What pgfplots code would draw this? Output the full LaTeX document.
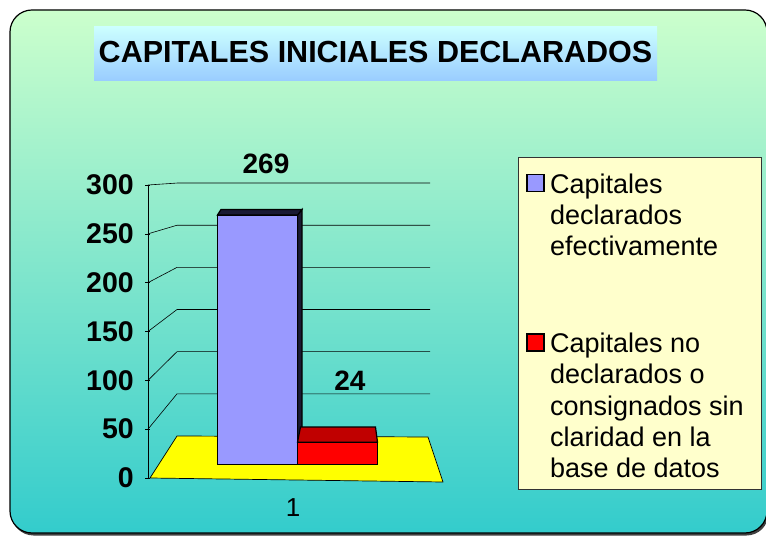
\documentclass[border=0pt]{standalone}
\usepackage{pgfplots}
\pgfplotsset{compat=1.18}
\usepackage{fontspec}
\setmainfont{Liberation Sans}
\definecolor{bgtop}{HTML}{CCFFCC}
\definecolor{bgbot}{HTML}{33CCCC}
\definecolor{titletop}{HTML}{CCFFFF}
\definecolor{titlebot}{HTML}{99CCFF}
\definecolor{barblue}{HTML}{9999FF}
\definecolor{bartop}{HTML}{1A1A33}
\definecolor{barred}{HTML}{FF0000}
\definecolor{redtop}{HTML}{C00000}
\definecolor{floor}{HTML}{FFFF00}
\definecolor{legbg}{HTML}{FFFFCC}
\begin{document}
\begin{tikzpicture}[x=1pt,y=1pt]
\useasboundingbox (0,0) rectangle (766,536);
% background panel
\fill[black!75, rounded corners=22pt] (11.5,0.5) rectangle (768.5,524);
\shade[top color=bgtop, bottom color=bgbot, rounded corners=22pt] (10,3) rectangle (767,526);
\draw[black, line width=1.2pt, rounded corners=22pt] (10,3) rectangle (767,526);
% title
\shade[top color=titletop, bottom color=titlebot] (94,455) rectangle (657,509);
\node[anchor=base, inner sep=0pt, font=\bfseries\fontsize{30.5}{36}\selectfont] at (375.5,473) {CAPITALES INICIALES DECLARADOS};
% legend box
\draw[fill=legbg, draw=black!80, line width=0.8pt] (518,47) rectangle (761,379);

% frame axis: front axis, floor and back wall
\begin{axis}[
  at={(150pt,58pt)}, anchor=south west,
  scale only axis, width=293pt, height=293pt,
  xmin=0, xmax=293, ymin=0, ymax=300, clip=false,
  axis line style={draw=none},
  ytick={0,50,...,300}, xtick={143}, xticklabels={1},
  ytick pos=left, xtick pos=bottom,
  tick align=outside, major tick length=5pt,
  y tick style={black, line width=0.6pt},
  x tick style={draw=none},
  /pgf/number format/assume math mode=true,
  yticklabel style={font=\bfseries\fontsize{28.5}{30}\selectfont, inner sep=0pt, anchor=east, xshift=-11pt},
  xticklabel style={font=\fontsize{26}{30}\selectfont, inner sep=0pt, anchor=north, yshift=-15.5pt},
]
\draw[fill=floor, draw=black, line width=0.7pt] (axis cs:0,0) -- (axis cs:293,-4.1) -- (axis cs:278,42.0) -- (axis cs:27,43) -- cycle;
\draw[black, line width=0.6pt] (axis cs:-2,0) -- (axis cs:-2,300);
\draw[black, line width=0.6pt] (axis cs:-2,50)  -- (axis cs:27,86.17)  -- (axis cs:280,86.17);
\draw[black, line width=0.6pt] (axis cs:-2,100) -- (axis cs:27,129.33) -- (axis cs:280,129.33);
\draw[black, line width=0.6pt] (axis cs:-2,150) -- (axis cs:27,172.5)  -- (axis cs:280,172.5);
\draw[black, line width=0.6pt] (axis cs:-2,200) -- (axis cs:27,215.66) -- (axis cs:280,215.66);
\draw[black, line width=0.6pt] (axis cs:-2,250) -- (axis cs:27,258.8)  -- (axis cs:280,258.8);
\draw[black, line width=0.6pt] (axis cs:-2,300) -- (axis cs:27,302.0)  -- (axis cs:280,302.0);
\end{axis}

% bar axis
\begin{axis}[
  at={(150pt,71.5pt)}, anchor=south west,
  scale only axis, width=295pt, height=278.25pt,
  xmin=0, xmax=2, ymin=0, ymax=300, clip=false,
  hide axis,
  /pgf/number format/assume math mode=true,
  legend style={at={(1.2753,1.0545)}, anchor=north west, draw=none, fill=none,
    inner sep=0pt, nodes={inner sep=0pt}, cells={anchor=base west}, column sep=5pt, row sep=136pt,
    font=\fontsize{27}{31.3}\selectfont},
  legend cell align=left,
  legend image code/.code={\draw[#1, line width=1.6pt] (0pt,-8.5pt) rectangle (17pt,8.5pt);},
]
% blue side face (depth)
\addplot[fill=bartop, draw=black, line width=1.2pt, forget plot] coordinates {(1.0,269) (1.0305,275) (1.0305,40.4) (1.0,23.2)} -- cycle;
% blue bar
\addplot[ybar, bar width=80pt, bar shift=-40pt, fill=barblue, draw=black, line width=1.6pt,
  nodes near coords, every node near coord/.append style={font=\bfseries\fontsize{28}{30}\selectfont, anchor=base, yshift=42pt, xshift=-31.5pt, inner sep=0pt}]
  coordinates {(1,269)};
\addlegendentry{\parbox[t]{205pt}{\raggedright\strut Capitales\newline declarados\newline efectivamente\strut}}
% blue top face
\addplot[fill=bartop, draw=black, line width=1.2pt, forget plot] coordinates {(0.4576,269) (1.0,269) (1.0305,275) (0.4814,275)} -- cycle;
% red bar
\addplot[ybar, bar width=80pt, bar shift=40pt, fill=barred, draw=black, line width=1.6pt,
  nodes near coords, every node near coord/.append style={font=\bfseries\fontsize{28}{30}\selectfont, anchor=base, yshift=52pt, xshift=52.5pt, inner sep=0pt}]
  coordinates {(1,24)};
\addlegendentry{\parbox[t]{205pt}{\raggedright\strut Capitales no\newline declarados o\newline consignados sin\newline claridad en la\newline base de datos\strut}}
% red top face
\addplot[fill=redtop, draw=black, line width=1.2pt, forget plot] coordinates {(1.0,24) (1.5424,24) (1.5288,40.4) (1.0203,40.4)} -- cycle;
\end{axis}
\end{tikzpicture}
\end{document}
